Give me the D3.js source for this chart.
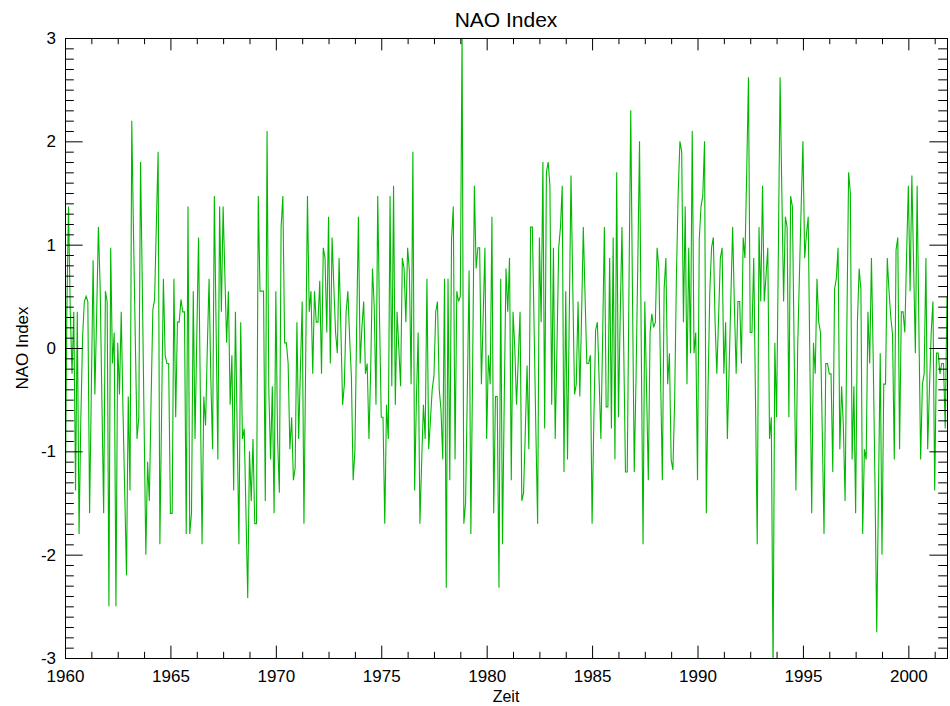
<!DOCTYPE html>
<html>
<head>
<meta charset="utf-8">
<script src="https://cdn.jsdelivr.net/npm/d3@7"></script>
<style>
  body { margin: 0; background: #fff; }
  text { font-family: "Liberation Sans", Arial, sans-serif; fill: #000; }
</style>
</head>
<body>
<div id="nao-chart"></div>
<script>
// monthly NAO index, Jan 1960 onward
var startYear = 1960;
var naoValues = [
  -1.9, 0.3, 1.37, 0.35, -0.25, 0.35, -1.38, 0.35, -1.8, -0.7, 0.1, 0.45,
  0.5, 0.45, -1.6, -0.4, 0.85, -0.45, 0.3, 1.17, 0.6, -0.5, -1.6, 0.55,
  0.45, -2.5, 0.97, -0.15, 0.15, -2.5, 0.05, -0.45, 0.35, -0.6, -1.4, -2.2,
  -0.47, -1.38, 2.2, 1.1, 0.1, -0.88, -0.67, 1.8, 0.6, -0.7, -2.0, -1.1,
  -1.48, -0.5, 0.37, 0.47, 1.2, 1.9, -1.9, -0.6, 0.67, -0.07, -0.15, -0.15,
  -1.6, -1.6, 0.67, -0.67, 0.25, 0.25, 0.47, 0.35, 0.35, -1.8, 1.37, -1.8,
  -1.6, 0.55, -0.88, 0.1, 1.07, -0.4, -1.9, -0.47, -0.75, 0.0, 0.67, -0.3,
  -0.98, 1.47, 0.2, -1.08, 1.37, 0.35, 1.37, 0.7, 0.05, 0.55, -0.55, -0.07,
  -1.38, 0.35, -0.8, -1.9, 0.25, -0.88, -0.78, -1.6, -2.42, -1.0, -1.48, -0.88,
  -1.7, -1.7, 1.47, 0.55, 0.55, 0.55, -1.48, 2.1, -0.4, -1.08, -0.37, -1.6,
  0.55, -0.88, -1.4, 1.17, 1.47, 0.05, 0.05, -0.15, -0.98, -0.67, -1.28, -1.16,
  0.25, -0.88, -0.2, 0.45, -1.7, -0.1, 1.47, 0.35, 0.55, -0.25, 0.55, 0.25,
  0.25, 0.65, -0.25, 0.97, 0.87, 0.15, 1.27, -0.15, 1.07, 0.6, 0.15, -0.05,
  0.87, 0.2, -0.55, -0.35, 0.35, 0.55, 0.1, -0.27, -1.28, -1.0, 0.2, 1.27,
  -0.15, 0.2, 0.45, -0.25, -0.15, -0.88, -0.2, 0.77, 0.4, -0.55, 1.47, 0.3,
  -0.67, -0.67, -1.7, -0.55, -0.88, 1.47, -0.37, 1.57, -0.55, 0.35, 0.0, -0.37,
  0.87, 0.77, 0.25, 0.97, 0.75, -0.35, 1.9, -1.38, -0.5, 0.15, -1.7, -1.1,
  -0.55, -0.88, 0.67, -0.98, -0.7, -0.4, -0.27, 0.35, 0.45, -0.4, -0.6, -1.08,
  0.67, -2.32, 0.67, -1.28, 1.05, 1.37, -1.08, 0.55, 0.45, 0.5, 3.05, -1.7,
  -1.5, -0.4, 0.75, -1.8, -0.2, 1.57, 0.77, 0.97, 0.97, -0.35, 0.3, 0.97,
  -0.88, -0.07, -0.35, 1.27, -1.6, -0.47, -0.47, -2.32, 0.67, -1.9, -0.5, 0.77,
  0.35, 0.87, -1.28, 0.35, 0.0, -0.55, -0.1, 0.35, -1.48, -1.4, -0.8, -0.17,
  -0.98, 1.17, 1.17, 0.2, -0.8, -1.7, 1.07, 0.25, 1.8, -0.78, 1.7, 1.8,
  1.57, -0.55, 0.97, -0.88, 0.0, 0.97, 1.17, 1.57, -1.2, 0.55, -1.08, 0.3,
  1.67, 0.6, -0.45, -0.35, 0.45, -0.47, 0.3, 1.17, 0.5, -0.15, -0.15, -0.07,
  -1.7, -0.7, 0.17, 0.25, -0.3, -0.88, 0.1, 1.17, -0.57, -0.57, 0.87, -0.78,
  1.07, -1.08, 1.7, -0.67, 0.3, 1.17, 0.0, -1.2, -1.2, 0.6, 2.3, 0.5,
  -1.2, -0.3, 0.8, 2.0, 0.0, -1.9, 0.45, -0.4, -1.28, 0.15, 0.33, 0.2,
  0.25, 0.97, 0.77, -0.3, -1.28, 0.57, 0.87, -0.35, -0.05, -1.08, -1.18, -0.5,
  0.7, 1.5, 2.0, 1.9, 0.25, 1.37, -0.35, 0.97, -0.05, 2.1, -0.05, 0.15,
  -1.28, 1.05, 1.37, 1.47, 2.0, -1.6, -0.4, 0.55, 0.97, 1.07, 0.25, -0.25,
  0.3, 0.87, 0.97, -0.25, 0.25, -0.88, -0.2, 0.5, 1.17, 0.4, -0.25, 0.45,
  0.45, -0.15, 1.07, 0.87, 1.7, 2.62, 0.15, 0.15, 0.87, -0.5, -1.9, 1.17,
  0.45, 1.57, 0.45, 0.7, 0.97, -0.88, -0.67, -3.15, 0.05, -0.67, 0.9, 2.62,
  1.5, 0.45, 1.27, 1.17, -0.67, 1.47, 1.37, 0.0, -1.38, 0.0, 0.7, 1.37,
  2.0, 0.87, 1.1, 1.27, -0.2, -1.6, 0.05, -0.25, 0.67, 0.25, 0.15, -0.8,
  -1.8, -0.15, -0.15, -0.25, -0.25, -1.2, 0.57, 0.67, 0.97, -0.98, -0.37, -0.75,
  -1.48, 0.2, 1.7, 1.5, -1.08, -0.37, -1.6, 0.25, 0.77, 0.57, -1.8, -0.98,
  -1.08, 0.35, -0.15, 0.87, -0.1, -1.3, -2.75, -1.4, -0.05, -2.0, -0.35, -0.35,
  0.87, 0.55, 0.3, 0.13, -1.08, 0.95, 1.07, -0.98, 0.35, 0.35, 0.15, 0.9,
  1.57, 0.55, 1.67, 0.8, -0.05, 1.57, 0.2, -1.08, -0.35, -0.25, 0.87, -0.98,
  -0.4, 0.15, 0.45, -1.38, -0.05, -0.05, -0.25, -0.15, -0.15, -0.78, 0.5
];

var xTickYears = [1960, 1965, 1970, 1975, 1980, 1985, 1990, 1995, 2000];
var yTickValues = [-3, -2, -1, 0, 1, 2, 3];
var yTickLabels = ["-3", "-2", "-1", "0", "1", "2", "3"];
var titleText = "NAO Index";
var xLabelText = "Zeit";
var yLabelText = "NAO Index";

// plot box (window.top is reserved, so prefixed names)
var width = 950, height = 706;
var plotLeft = 65, plotRight = 947, plotTop = 38, plotBottom = 658;

var data = naoValues.map(function (v, i) {
    return { t: startYear + i / 12, v: v };
});

var x = d3.scaleLinear()
    .domain([startYear, startYear + (naoValues.length - 1) / 12])
    .range([plotLeft, plotRight]);
var y = d3.scaleLinear().domain([-3, 3]).range([plotBottom, plotTop]);

var svg = d3.select("#nao-chart").append("svg")
    .attr("width", width)
    .attr("height", height);

svg.append("defs").append("clipPath")
    .attr("id", "plot-clip")
    .append("rect")
    .attr("x", plotLeft).attr("y", plotTop)
    .attr("width", plotRight - plotLeft).attr("height", plotBottom - plotTop);

// the curve
var line = d3.line()
    .x(function (d) { return x(d.t); })
    .y(function (d) { return y(d.v); });

svg.append("path")
    .datum(data)
    .attr("clip-path", "url(#plot-clip)")
    .attr("d", line)
    .style("fill", "none")
    .style("stroke", "#00b800")
    .style("stroke-width", 1.1);

// minor ticks: 0.1 on y, 1.25 yr on x
var yMinor = d3.range(-30, 31).map(function (k) { return k / 10; })
    .filter(function (v) { return yTickValues.indexOf(v) < 0; });
var xMinor = d3.range(0, 34).map(function (k) { return startYear + k * 1.25; })
    .filter(function (v) { return xTickYears.indexOf(v) < 0 && v <= x.domain()[1]; });

var yMajLen = 0.02 * (plotRight - plotLeft), xMajLen = 0.02 * (plotBottom - plotTop);

function styleAxis(g) {
    g.select(".domain").attr("stroke", "#000").attr("stroke-width", 1);
    g.selectAll(".tick line").attr("stroke", "#000").attr("stroke-width", 1);
    g.selectAll("text").style("font-size", "17px");
}

// left
svg.append("g").attr("transform", "translate(" + plotLeft + ",0)")
    .call(d3.axisLeft(y).tickValues(yTickValues).tickSize(-yMajLen).tickPadding(9)
        .tickFormat(function (d, i) { return yTickLabels[i]; }))
    .call(styleAxis);
svg.append("g").attr("transform", "translate(" + plotLeft + ",0)")
    .call(d3.axisLeft(y).tickValues(yMinor).tickSize(-yMajLen / 2).tickFormat(""))
    .call(styleAxis);

// right
svg.append("g").attr("transform", "translate(" + plotRight + ",0)")
    .call(d3.axisRight(y).tickValues(yTickValues).tickSize(-yMajLen).tickFormat(""))
    .call(styleAxis);
svg.append("g").attr("transform", "translate(" + plotRight + ",0)")
    .call(d3.axisRight(y).tickValues(yMinor).tickSize(-yMajLen / 2).tickFormat(""))
    .call(styleAxis);

// bottom
svg.append("g").attr("transform", "translate(0," + plotBottom + ")")
    .call(d3.axisBottom(x).tickValues(xTickYears).tickSize(-xMajLen).tickPadding(12)
        .tickFormat(d3.format("d")))
    .call(styleAxis);
svg.append("g").attr("transform", "translate(0," + plotBottom + ")")
    .call(d3.axisBottom(x).tickValues(xMinor).tickSize(-xMajLen / 2).tickFormat(""))
    .call(styleAxis);

// top
svg.append("g").attr("transform", "translate(0," + plotTop + ")")
    .call(d3.axisTop(x).tickValues(xTickYears).tickSize(-xMajLen).tickFormat(""))
    .call(styleAxis);
svg.append("g").attr("transform", "translate(0," + plotTop + ")")
    .call(d3.axisTop(x).tickValues(xMinor).tickSize(-xMajLen / 2).tickFormat(""))
    .call(styleAxis);

// titles
svg.append("text")
    .attr("x", (plotLeft + plotRight) / 2).attr("y", 27)
    .style("text-anchor", "middle")
    .style("font-size", "21px")
    .text(titleText);

svg.append("text")
    .attr("x", (plotLeft + plotRight) / 2).attr("y", 702)
    .style("text-anchor", "middle")
    .style("font-size", "16px")
    .text(xLabelText);

svg.append("text")
    .attr("transform", "translate(28," + ((plotTop + plotBottom) / 2) + ") rotate(-90)")
    .style("text-anchor", "middle")
    .style("font-size", "17px")
    .text(yLabelText);
</script>
</body>
</html>
